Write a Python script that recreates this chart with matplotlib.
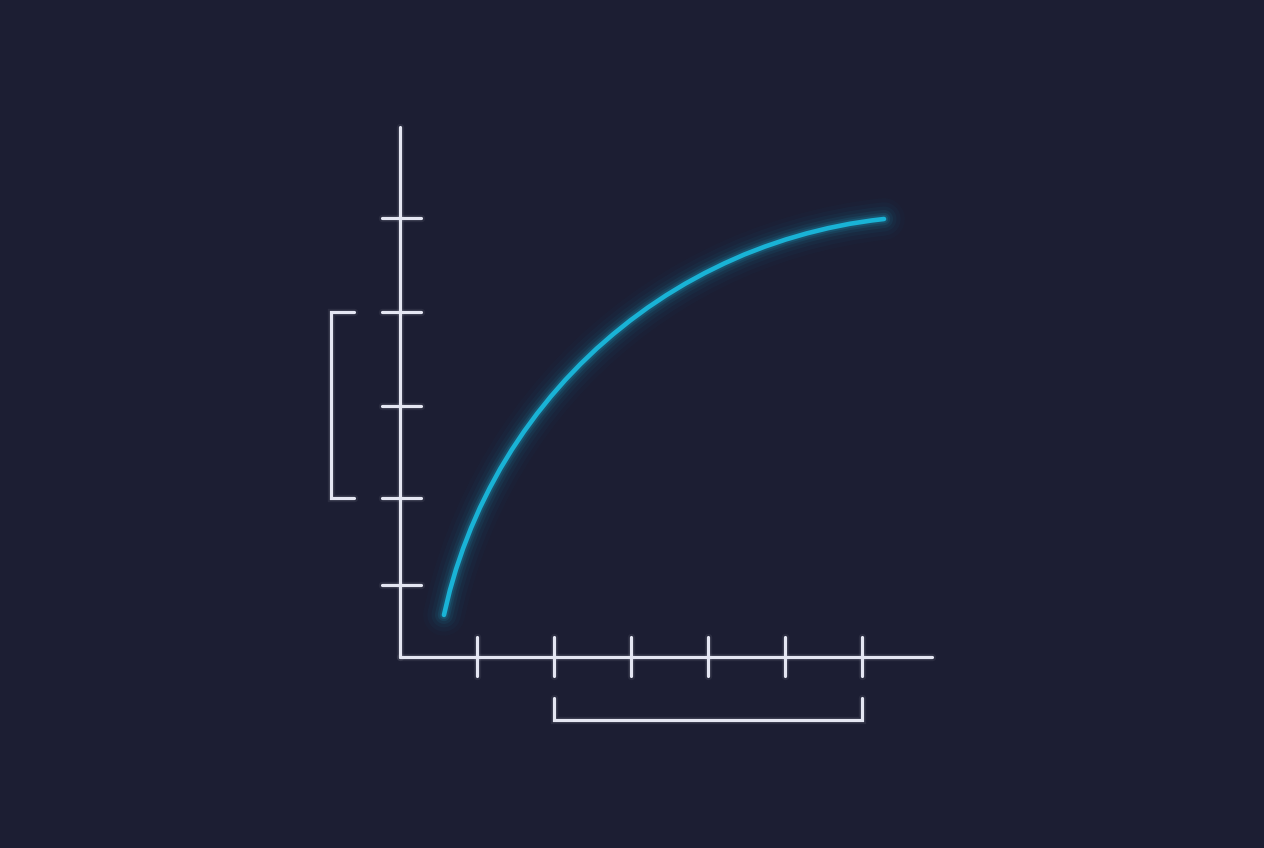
import matplotlib
matplotlib.use("Agg")
import matplotlib.pyplot as plt

# ---- data ----
x_ticks = [1, 2, 3, 4, 5, 6]
y_ticks = [0.78, 1.73, 2.73, 3.75, 4.77]
curve_x = [0.571, 0.648, 0.728, 0.820, 0.924, 1.039, 1.166, 1.303, 1.452,
           1.611, 1.780, 1.959, 2.147, 2.345, 2.552, 2.767, 2.990, 3.221,
           3.459, 3.703, 3.954, 4.211, 4.472, 4.739, 5.010, 5.285, 5.563,
           5.843, 6.126, 6.286]
curve_y = [0.457, 0.725, 0.955, 1.181, 1.405, 1.624, 1.838, 2.048, 2.253,
           2.452, 2.645, 2.832, 3.012, 3.185, 3.351, 3.508, 3.658, 3.800,
           3.933, 4.057, 4.172, 4.278, 4.375, 4.461, 4.538, 4.605, 4.662,
           4.709, 4.745, 4.761]
x_axis_end = 6.91
y_axis_end = 5.76
# bracket spans (tick indices)
left_bracket = (1, 3)     # y ticks 2..4
bottom_bracket = (1, 5)   # x ticks 2..6

BG = "#1c1e33"
AX = "#e4e6f2"
CY = "#19b3d6"

fig = plt.figure(figsize=(12.64, 8.48), dpi=100, facecolor=BG)
ax = fig.add_axes([0, 0, 1, 1])
ax.set_facecolor(BG)
ax.set_xlim(-400 / 77, (1264 - 400) / 77)
ax.set_ylim((657 - 848) / 92, 657 / 92)
ax.axis("off")

def wline(xs, ys, lw=2.3):
    # soft glow
    ax.plot(xs, ys, color=AX, lw=lw + 3, alpha=0.07, solid_capstyle="round",
            solid_joinstyle="miter")
    ax.plot(xs, ys, color=AX, lw=lw, solid_capstyle="round",
            solid_joinstyle="miter")

# axes
wline([0, 0], [0, y_axis_end])
wline([0, x_axis_end], [0, 0])

# ticks
for yt in y_ticks:
    wline([-0.24, 0.27], [yt, yt])
for xt in x_ticks:
    wline([xt, xt], [-0.21, 0.22])

# left bracket
by0, by1 = y_ticks[left_bracket[0]], y_ticks[left_bracket[1]]
bx, barm = -0.90, -0.60
wline([barm, bx, bx, barm], [by1, by1, by0, by0])

# bottom bracket
bxa, bxb = x_ticks[bottom_bracket[0]], x_ticks[bottom_bracket[1]]
byb, byarm = -0.685, -0.45
wline([bxa, bxa, bxb, bxb], [byarm, byb, byb, byarm])

# glowing curve
for w, a in [(30, 0.02), (24, 0.03), (18, 0.045), (13, 0.07), (9, 0.10), (6, 0.16)]:
    ax.plot(curve_x, curve_y, color=CY, lw=w, alpha=a, solid_capstyle="round",
            solid_joinstyle="round")
ax.plot(curve_x, curve_y, color=CY, lw=3.3, solid_capstyle="round",
        solid_joinstyle="round")

fig.savefig("out.png", dpi=100, facecolor=BG)
